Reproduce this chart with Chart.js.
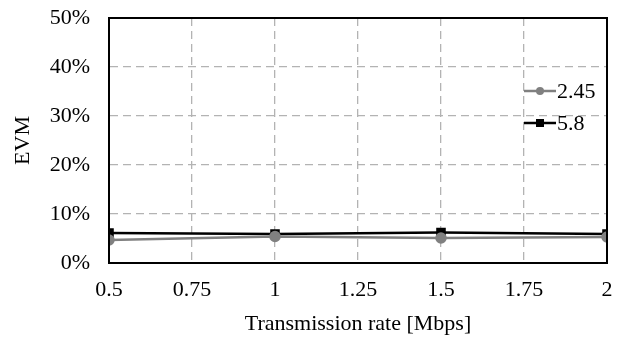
<!DOCTYPE html>
<html><head><meta charset="utf-8">
<script src="https://cdn.jsdelivr.net/npm/chart.js@4.4.1/dist/chart.umd.min.js"></script>
<style>html,body{margin:0;padding:0;background:#fff}#c{display:block}</style>
</head><body>
<canvas id="c" width="633" height="337"></canvas>
<script>
const rates = [0.5, 1, 1.5, 2];
const evm245 = [0.047, 0.054, 0.051, 0.053];
const evm58 = [0.061, 0.059, 0.062, 0.059];
const seriesNames = ['2.45', '5.8'];
const xTitle = 'Transmission rate [Mbps]';
const yTitle = 'EVM';
const FONT = "'Liberation Serif', 'Times New Roman', serif";

const framePlugin = {
  id: 'frame',
  afterDatasetsDraw(chart) {
    const {ctx, chartArea: a} = chart;
    ctx.save();
    ctx.strokeStyle = '#000';
    ctx.lineWidth = 2;
    ctx.strokeRect(a.left, a.top, a.right - a.left, a.bottom - a.top);
    ctx.restore();
  },
  afterDraw(chart) {
    const {ctx} = chart;
    ctx.save();
    const items = [{y: 91}, {y: 123}];
    chart.data.datasets.forEach((ds, i) => {
      const y = items[i].y;
      const x0 = 524, x1 = 556;
      ctx.strokeStyle = ds.borderColor;
      ctx.lineWidth = 2.5;
      ctx.beginPath(); ctx.moveTo(x0, y); ctx.lineTo(x1, y); ctx.stroke();
      ctx.fillStyle = ds.pointBackgroundColor;
      const cx = 540;
      if (ds.pointStyle === 'rect') ctx.fillRect(cx - 4, y - 4, 8, 8);
      else { ctx.beginPath(); ctx.arc(cx, y, 4, 0, Math.PI * 2); ctx.fill(); }
      ctx.fillStyle = '#000';
      ctx.font = '22px ' + FONT;
      ctx.textBaseline = 'middle';
      ctx.textAlign = 'left';
      ctx.fillText(ds.label, x1 + 1, y + 1);
    });
    ctx.restore();
  }
};

new Chart(document.getElementById('c'), {
  type: 'line',
  data: {
    datasets: [
      {label: seriesNames[0], data: rates.map((r, i) => ({x: r, y: evm245[i]})),
       borderColor: '#808080', backgroundColor: '#808080', pointBackgroundColor: '#808080',
       pointBorderColor: '#808080', borderWidth: 2.5, pointStyle: 'circle', pointRadius: 4.5, tension: 0},
      {label: seriesNames[1], data: rates.map((r, i) => ({x: r, y: evm58[i]})),
       borderColor: '#000', backgroundColor: '#000', pointBackgroundColor: '#000',
       pointBorderColor: '#000', borderWidth: 2.5, pointStyle: 'rect', pointRadius: 5, tension: 0}
    ]
  },
  options: {
    responsive: false, animation: false,
    layout: {padding: {left: 0, right: 26, top: 18, bottom: 0}},
    plugins: {legend: {display: false}, tooltip: {enabled: false}},
    scales: {
      x: {
        type: 'linear', min: 0.5, max: 2,
        afterFit(s) { s.height = 74; s.paddingLeft = 0; s.paddingRight = 0; },
        ticks: {stepSize: 0.25, color: '#000', font: {family: FONT, size: 22}, padding: 14,
                callback: v => String(v), maxRotation: 0, autoSkip: false},
        grid: {color: '#b3b3b3', lineWidth: 1.3, drawTicks: false},
        border: {display: true, color: '#000', width: 2, dash: [8, 5]},
        title: {display: true, text: xTitle, color: '#000', font: {family: FONT, size: 22}, padding: {top: 0, bottom: 0}}
      },
      y: {
        min: 0, max: 0.5,
        afterFit(s) { s.width = 109; s.paddingTop = 0; s.paddingBottom = 0; },
        ticks: {stepSize: 0.1, color: '#000', font: {family: FONT, size: 22}, padding: 19,
                callback: v => Math.round(v * 100) + '%'},
        grid: {color: '#b3b3b3', lineWidth: 1.3, drawTicks: false},
        border: {display: true, color: '#000', width: 2, dash: [8, 5]},
        title: {display: true, text: yTitle, color: '#000', font: {family: FONT, size: 22}, padding: {top: 10, bottom: 0}}
      }
    }
  },
  plugins: [framePlugin]
});
</script>
</body></html>
